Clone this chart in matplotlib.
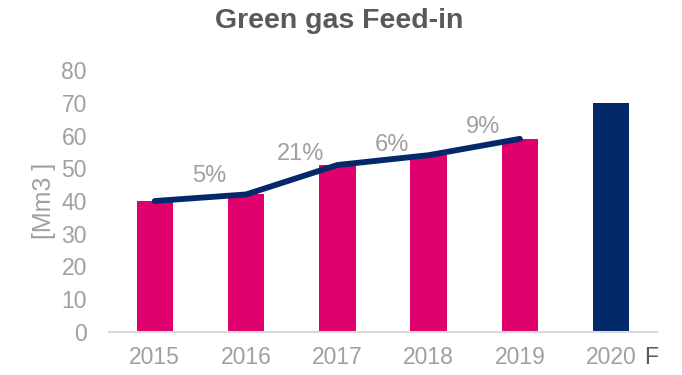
import matplotlib
matplotlib.use("Agg")
import matplotlib.pyplot as plt

plt.rcParams['font.family'] = ['Liberation Sans', 'DejaVu Sans']

years = ["2015", "2016", "2017", "2018", "2019", "2020"]
feed_in = [40, 42, 51, 54, 59, 70]          # Mm3
is_forecast = [False, False, False, False, False, True]
growth_labels = ["5%", "21%", "6%", "9%"]   # year-on-year growth 2016..2019

PINK = "#DF006E"
NAVY = "#04296B"
GRAY_TXT = "#A0A0A0"
DARK_TXT = "#595959"

fig = plt.figure(figsize=(6.82, 3.75), dpi=100)
ax = fig.add_axes([0.160, 0.115, 0.803, 0.698])

x = list(range(len(years)))
colors = [NAVY if f else PINK for f in is_forecast]
ax.bar(x, feed_in, width=0.4, color=colors, zorder=2)

# trend line over the actual years
hist_x = [i for i, f in zip(x, is_forecast) if not f]
hist_y = [v for v, f in zip(feed_in, is_forecast) if not f]
ax.plot(hist_x, hist_y, color=NAVY, lw=4.2, solid_capstyle='round',
        solid_joinstyle='round', zorder=3)

# growth labels between consecutive years
offsets = [6.3, 7.0, 4.4, 5.5]
for k, lab in enumerate(growth_labels):
    xm = hist_x[k] + 0.6
    ym = hist_y[k] + 0.6 * (hist_y[k + 1] - hist_y[k]) + offsets[k]
    ax.text(xm, ym, lab, ha='center', va='center', fontsize=17,
            color=GRAY_TXT, zorder=4)

ax.set_xlim(-0.5, len(years) - 0.5)
ax.set_ylim(0, 80)
ax.set_yticks(range(0, 81, 10))
ax.set_xticks(x)
ax.set_xticklabels(years)
ax.tick_params(axis='both', length=0, labelsize=16.5, colors=GRAY_TXT)
ax.tick_params(axis='x', pad=10)
ax.tick_params(axis='y', pad=16)

for s in ("top", "right", "left"):
    ax.spines[s].set_visible(False)
ax.spines["bottom"].set_color("#D9D9D9")
ax.spines["bottom"].set_linewidth(1.5)

# forecast marker next to the last year label
ax.annotate("F", xy=(x[-1], 0), xycoords=ax.get_xaxis_transform(),
            xytext=(23.5, -10), textcoords='offset points',
            ha='left', va='top', fontsize=16.5, color=DARK_TXT)

ax.set_ylabel("[Mm3 ]", fontsize=18, color=GRAY_TXT, labelpad=4)

fig.text(0.497, 0.945, "Green gas Feed-in", ha='center', va='center',
         fontsize=20.5, fontweight='bold', color=DARK_TXT)

fig.savefig("out.png", dpi=100)
